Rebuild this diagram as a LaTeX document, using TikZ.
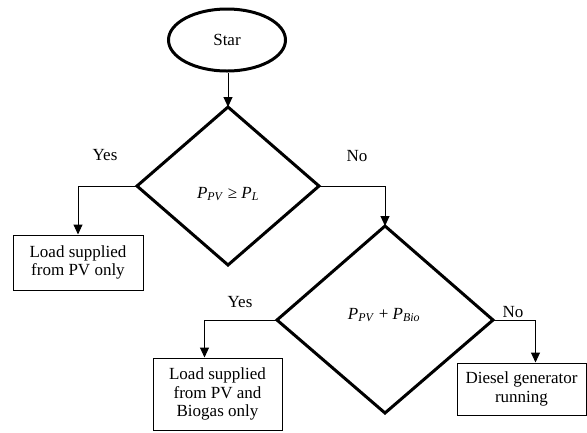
\documentclass[tikz,border=0pt]{standalone}
\usepackage{fontspec}
\setmainfont{Liberation Serif}
\usetikzlibrary{shapes.geometric,arrows.meta}
\tikzset{
  startend/.style={ellipse,draw,line width=3pt,minimum width=117pt,minimum height=62pt,inner sep=0pt},
  actbox/.style={rectangle,draw,line width=1pt,align=center,inner sep=0pt,font=\fontsize{17}{18.5}\selectfont},
  conn/.style={line width=1pt,-{Triangle[length=10pt,width=9pt]}},
  lbl/.style={font=\fontsize{17}{18.5}\selectfont,inner sep=0pt}
}
\begin{document}
\begin{tikzpicture}[x=1pt,y=-1pt]
\useasboundingbox (0,0) rectangle (587,432);
\node[startend,font=\fontsize{17}{18.5}\selectfont] (start) at (227,40) {Star};
\draw[line width=3pt] (228,107) -- (319,186) -- (228,265) -- (137,186) -- cycle;
\coordinate (d1t) at (228,107);
\coordinate (d1l) at (137,186);
\coordinate (d1r) at (319,186);
\node[lbl] (d1) at (228,194) {\textit{P}\textsubscript{\textit{PV}} ≥ \textit{P}\textsubscript{\textit{L}}};
\draw[line width=3pt] (385,226) -- (493,320) -- (385,413) -- (277,320) -- cycle;
\coordinate (d2t) at (385,226);
\coordinate (d2l) at (277,320);
\coordinate (d2r) at (493,320);
\node[lbl] (d2) at (384,315) {\textit{P}\textsubscript{\textit{PV}} + \textit{P}\textsubscript{\textit{Bio}}};
\node[actbox,minimum width=130pt,minimum height=55pt] (b1) at (78,262.5) {Load supplied\\from PV only};
\node[actbox,minimum width=129pt,minimum height=72pt] (b2) at (217.5,394) {Load supplied\\from PV and\\Biogas only};
\node[actbox,minimum width=129pt,minimum height=52pt] (b3) at (521.5,389) {Diesel generator\\running};
\node[lbl] (y1) at (105,155) {Yes};
\node[lbl] (n1) at (357,156) {No};
\node[lbl] (y2) at (240,302) {Yes};
\node[lbl] (n2) at (513,312) {No};
\draw[conn] (start.south -| d1t) -- (d1t);
\draw[conn] (d1l) -| (b1.north);
\draw[conn] (d1r) -| (d2t);
\draw[conn] (d2l) -| ([xshift=-13pt]b2.north);
\draw[conn] (d2r) -| ([xshift=14pt]b3.north);
\end{tikzpicture}
\end{document}
